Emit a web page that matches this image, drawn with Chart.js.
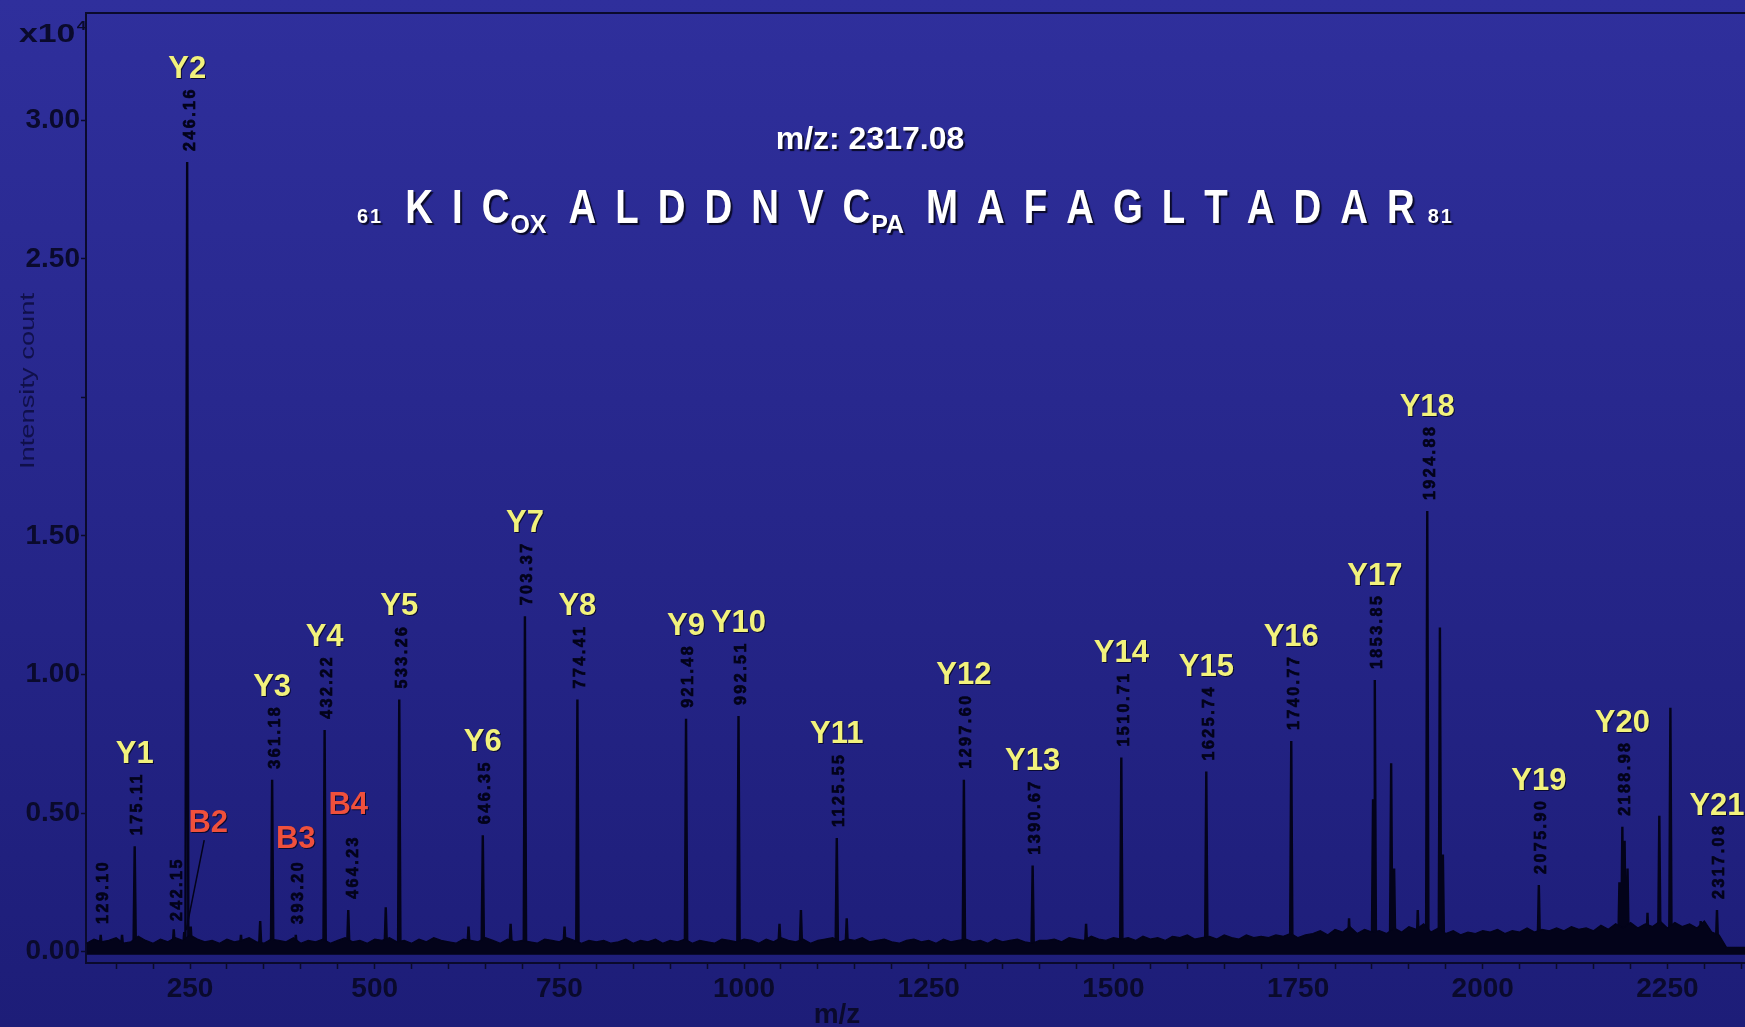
<!DOCTYPE html>
<html>
<head>
<meta charset="utf-8">
<script src="https://cdn.jsdelivr.net/npm/chart.js@4.4.1/dist/chart.umd.min.js"></script>
<style>
  html, body { margin: 0; padding: 0; background: #26268a; overflow: hidden; }
  #wrap { width: 1745px; height: 1027px; }
</style>
</head>
<body>
<div id="wrap"><canvas id="chart" width="1745" height="1027"></canvas></div>
<script>
// intensities are in units of 10^4 counts
const yIonNames = ['Y1','Y2','Y3','Y4','Y5','Y6','Y7','Y8','Y9','Y10','Y11','Y12','Y13','Y14','Y15','Y16','Y17','Y18','Y19','Y20','Y21'];
const yIonMz = [175.11, 246.16, 361.18, 432.22, 533.26, 646.35, 703.37, 774.41, 921.48, 992.51, 1125.55,
                1297.60, 1390.67, 1510.71, 1625.74, 1740.77, 1853.85, 1924.88, 2075.90, 2188.98, 2317.08];
const yIonInt = [0.38, 2.85, 0.62, 0.80, 0.91, 0.42, 1.21, 0.91, 0.84, 0.85, 0.41,
                 0.62, 0.31, 0.70, 0.65, 0.76, 0.98, 1.59, 0.24, 0.45, 0.15];

const bIonNames = ['B2','B3','B4'];
const bIonMz = [242.15, 393.20, 464.23];
const bIonInt = [0.07, 0.06, 0.15];

// peaks with an m/z tag but no ion name
const tagMz = [129.10];
const tagInt = [0.06];

// other peaks, unlabelled
const otherMz = [158, 228, 251, 319, 345, 515, 627, 684, 757, 1048, 1077, 1139, 1463,
                 1819, 1851.5, 1876, 1880, 1912, 1942, 1946, 1995, 2185, 2192, 2196, 2223, 2239, 2254, 2295];
const otherInt = [0.06, 0.08, 0.09, 0.06, 0.11, 0.16, 0.09, 0.10, 0.09, 0.10, 0.15, 0.12, 0.10,
                  0.12, 0.55, 0.68, 0.30, 0.15, 1.17, 0.35, 0.07, 0.25, 0.40, 0.30, 0.14, 0.49, 0.88, 0.11];

// baseline noise band, read every 10 m/z from 110
const noiseStart = 110;
const noiseStep = 10;
const noiseInt = [
  .03,.045,.035,.04,.05,.03,.035,.055,.04,.03,
  .045,.035,.05,.04,.06,.045,.035,.04,.03,.045,
  .035,.04,.05,.035,.03,.045,.04,.035,.05,.03,
  .04,.035,.045,.03,.04,.05,.035,.04,.03,.045,
  .04,.05,.035,.04,.03,.045,.035,.05,.04,.035,
  .03,.045,.04,.035,.05,.04,.03,.045,.035,.04,
  .035,.03,.045,.04,.035,.05,.04,.03,.04,.035,
  .04,.03,.035,.045,.03,.04,.035,.045,.03,.04,
  .035,.045,.03,.04,.035,.03,.045,.04,.035,.045,
  .04,.03,.045,.035,.05,.04,.035,.045,.03,.04,
  .045,.05,.035,.045,.04,.05,.035,.04,.045,.035,
  .03,.04,.045,.035,.04,.03,.045,.035,.04,.045,
  .035,.04,.03,.045,.035,.04,.045,.035,.03,.04,
  .04,.045,.035,.05,.045,.04,.055,.045,.04,.05,
  .045,.05,.04,.055,.045,.05,.04,.055,.05,.06,
  .045,.05,.055,.045,.06,.05,.045,.06,.05,.055,
  .05,.06,.055,.065,.05,.06,.065,.075,.06,.08,
  .07,.09,.065,.08,.07,.075,.065,.085,.07,.09,
  .08,.1,.07,.085,.065,.075,.06,.07,.065,.075,
  .07,.08,.065,.075,.07,.085,.07,.08,.075,.085,
  .075,.09,.08,.085,.075,.095,.08,.1,.085,.105,
  .085,.1,.09,.11,.085,.105,.09,.1,.085,.11,
  .07,.06,.015,.015,.015,.015
];

const xTickLabels = [250, 500, 750, 1000, 1250, 1500, 1750, 2000, 2250];
const yTickLabels = ['0.00', '0.50', '1.00', '1.50', '', '2.50', '3.00'];

const precursor = 'm/z: 2317.08';
const seqFirst = '61';
const seqLast = '81';
const residues = ['K','I','C_OX','A','L','D','D','N','V','C_PA','M','A','F','A','G','L','T','A','D','A','R'];

const INK = '#03031a';
const AXIS = '#0a0a2c';
const FONT = '"Liberation Sans", Arial, sans-serif';

// build the stick spectrum from the peak lists
let peakPts = [];
function addPeaks(mzs, ints) {
  mzs.forEach(function(m, i) {
    peakPts.push({x: m - 1.6, y: 0.01}, {x: m, y: ints[i]}, {x: m + 1.6, y: 0.01});
  });
}
addPeaks(yIonMz, yIonInt);
addPeaks(bIonMz, bIonInt);
addPeaks(tagMz, tagInt);
addPeaks(otherMz, otherInt);
peakPts.sort(function(a, b) { return a.x - b.x; });

const noisePts = noiseInt.map(function(v, i) { return {x: noiseStart + i * noiseStep, y: v}; });

const background = {
  id: 'background',
  beforeDraw(chart) {
    const ctx = chart.ctx;
    const g = ctx.createLinearGradient(0, 0, 0, chart.height);
    g.addColorStop(0, '#2f2f9c');
    g.addColorStop(1, '#1d1d78');
    ctx.save();
    ctx.fillStyle = g;
    ctx.fillRect(0, 0, chart.width, chart.height);
    ctx.restore();
  }
};

function massTag(ctx, px, py, txt, dx) {
  ctx.save();
  ctx.translate(px + 3 + (dx || 0), py - 11);
  ctx.rotate(-Math.PI / 2);
  ctx.font = 'bold 16px ' + FONT;
  ctx.letterSpacing = '2.5px';
  ctx.fillStyle = INK;
  ctx.strokeStyle = INK;
  ctx.lineWidth = 0.7;
  ctx.textAlign = 'left';
  ctx.textBaseline = 'middle';
  ctx.fillText(txt, 0, 0);
  ctx.strokeText(txt, 0, 0);
  const w = ctx.measureText(txt).width;
  ctx.restore();
  return py - 11 - w; // top of the tag
}

function ionName(ctx, px, py, txt, color) {
  ctx.save();
  ctx.font = 'bold 31px ' + FONT;
  ctx.textAlign = 'center';
  ctx.textBaseline = 'alphabetic';
  ctx.shadowColor = 'rgba(8,8,40,0.9)';
  ctx.shadowOffsetX = 1;
  ctx.shadowOffsetY = 1;
  ctx.fillStyle = color;
  ctx.fillText(txt, px, py);
  ctx.restore();
}

const overlay = {
  id: 'overlay',
  afterDraw(chart) {
    const ctx = chart.ctx;
    const a = chart.chartArea;
    const xs = chart.scales.x, ys = chart.scales.y;

    // top frame line
    ctx.save();
    ctx.strokeStyle = AXIS;
    ctx.lineWidth = 2;
    ctx.beginPath();
    ctx.moveTo(a.left, a.top);
    ctx.lineTo(a.right, a.top);
    ctx.stroke();
    ctx.restore();

    // y ions
    yIonNames.forEach(function(n, i) {
      const px = xs.getPixelForValue(yIonMz[i]);
      const py = ys.getPixelForValue(yIonInt[i]);
      const top = massTag(ctx, px, py, yIonMz[i].toFixed(2));
      ionName(ctx, px, top - 9, n, '#f2f27c');
    });

    // b ions (label offsets keep them clear of the neighbouring sticks)
    const bTagDx = [-10, 0, 2];
    const bDx = [24, 0, 0];
    const bDy = [-14, -1, -10];
    bIonNames.forEach(function(n, i) {
      const px = xs.getPixelForValue(bIonMz[i]);
      const py = ys.getPixelForValue(bIonInt[i]);
      const top = massTag(ctx, px, py, bIonMz[i].toFixed(2), bTagDx[i]);
      const lx = px + bDx[i], ly = top - 11 + bDy[i];
      ionName(ctx, lx, ly, n, '#f0503c');
      if (bDx[i] !== 0) {
        ctx.save();
        ctx.strokeStyle = INK;
        ctx.lineWidth = 1.5;
        ctx.beginPath();
        ctx.moveTo(lx - 4, ly + 8);
        ctx.lineTo(px + 2, py - 2);
        ctx.stroke();
        ctx.restore();
      }
    });

    tagMz.forEach(function(m, i) {
      massTag(ctx, xs.getPixelForValue(m), ys.getPixelForValue(tagInt[i]), m.toFixed(2));
    });

    // x10^4 multiplier
    ctx.save();
    ctx.fillStyle = AXIS;
    ctx.textBaseline = 'alphabetic';
    ctx.textAlign = 'left';
    ctx.font = 'bold 26px ' + FONT;
    ctx.translate(19, 42);
    ctx.scale(1.3, 1);
    ctx.fillText('x10', 0, 0);
    const w10 = ctx.measureText('x10').width;
    ctx.font = 'bold 13px ' + FONT;
    ctx.fillText('4', w10 + 1, -12);
    ctx.restore();

    // y axis title
    ctx.save();
    ctx.translate(28, 381);
    ctx.rotate(-Math.PI / 2);
    ctx.scale(1.3, 1);
    ctx.font = '21px ' + FONT;
    ctx.fillStyle = '#10104a';
    ctx.textAlign = 'center';
    ctx.textBaseline = 'middle';
    ctx.fillText('Intensity count', 0, 0);
    ctx.restore();

    // x axis title
    ctx.save();
    ctx.font = 'bold 28px ' + FONT;
    ctx.fillStyle = AXIS;
    ctx.textAlign = 'center';
    ctx.textBaseline = 'middle';
    ctx.fillText('m/z', 837, 1015);
    ctx.restore();

    // precursor and peptide sequence
    ctx.save();
    ctx.fillStyle = '#ffffff';
    ctx.shadowColor = 'rgba(8,8,36,0.95)';
    ctx.shadowOffsetX = 2;
    ctx.shadowOffsetY = 2;
    ctx.shadowBlur = 1;
    ctx.font = 'bold 32px ' + FONT;
    ctx.textAlign = 'center';
    ctx.textBaseline = 'alphabetic';
    ctx.fillText(precursor, 870, 149);

    ctx.textAlign = 'left';
    const base = 223;
    let x = 357;
    ctx.font = 'bold 20px ' + FONT;
    ctx.letterSpacing = '2px';
    ctx.fillText(seqFirst, x, base);
    x += ctx.measureText(seqFirst).width + 22;
    ctx.letterSpacing = '0px';
    residues.forEach(function(r) {
      const parts = r.split('_');
      ctx.font = 'bold 48px ' + FONT;
      ctx.save();
      ctx.translate(x, base);
      ctx.scale(0.8, 1);
      ctx.fillText(parts[0], 0, 0);
      ctx.restore();
      x += ctx.measureText(parts[0]).width * 0.8;
      if (parts[1]) {
        ctx.font = 'bold 25px ' + FONT;
        ctx.fillText(parts[1], x + 1, base + 10);
        x += ctx.measureText(parts[1]).width + 4;
      }
      x += 19;
    });
    ctx.font = 'bold 20px ' + FONT;
    ctx.letterSpacing = '2px';
    ctx.fillText(seqLast, x - 6, base);
    ctx.restore();
  }
};

const ctx = document.getElementById('chart').getContext('2d');
const chart = new Chart(ctx, {
  type: 'line',
  data: {
    datasets: [
      {
        label: 'baseline',
        data: noisePts,
        borderColor: INK,
        backgroundColor: INK,
        borderWidth: 1.2,
        fill: {value: -0.012},
        pointRadius: 0,
        tension: 0
      },
      {
        label: 'spectrum',
        data: peakPts,
        borderColor: INK,
        borderWidth: 2.4,
        fill: false,
        pointRadius: 0,
        tension: 0
      }
    ]
  },
  options: {
    responsive: false,
    animation: false,
    layout: {padding: {top: 13, right: 0, left: 0, bottom: 0}},
    plugins: {legend: {display: false}, tooltip: {enabled: false}},
    scales: {
      x: {
        type: 'linear',
        min: 109.2,
        max: 2355,
        afterFit: function(s) { s.height = 64; s.paddingLeft = 0; s.paddingRight = 0; },
        border: {color: AXIS, width: 2},
        grid: {drawOnChartArea: false, drawTicks: true, tickLength: 6, color: AXIS, tickWidth: 1.5},
        ticks: {
          stepSize: 50,
          autoSkip: false,
          includeBounds: false,
          maxRotation: 0,
          padding: 3,
          color: AXIS,
          font: {family: FONT, size: 28, weight: 'bold'},
          callback: function(v) {
            const r = Math.round(v);
            return xTickLabels.includes(r) ? String(r) : '';
          }
        }
      },
      y: {
        min: -0.0415,
        max: 3.388,
        afterFit: function(s) { s.width = 86; s.paddingTop = 0; s.paddingBottom = 0; },
        border: {color: AXIS, width: 2},
        grid: {drawOnChartArea: false, drawTicks: true, tickLength: 5, color: AXIS, tickWidth: 1.5},
        ticks: {
          stepSize: 0.5,
          includeBounds: false,
          padding: 1,
          color: AXIS,
          font: {family: FONT, size: 28, weight: 'bold'},
          callback: function(v) {
            const t = yTickLabels[Math.round(v / 0.5)];
            return t === undefined ? '' : t;
          }
        }
      }
    }
  },
  plugins: [background, overlay]
});
</script>
</body>
</html>
